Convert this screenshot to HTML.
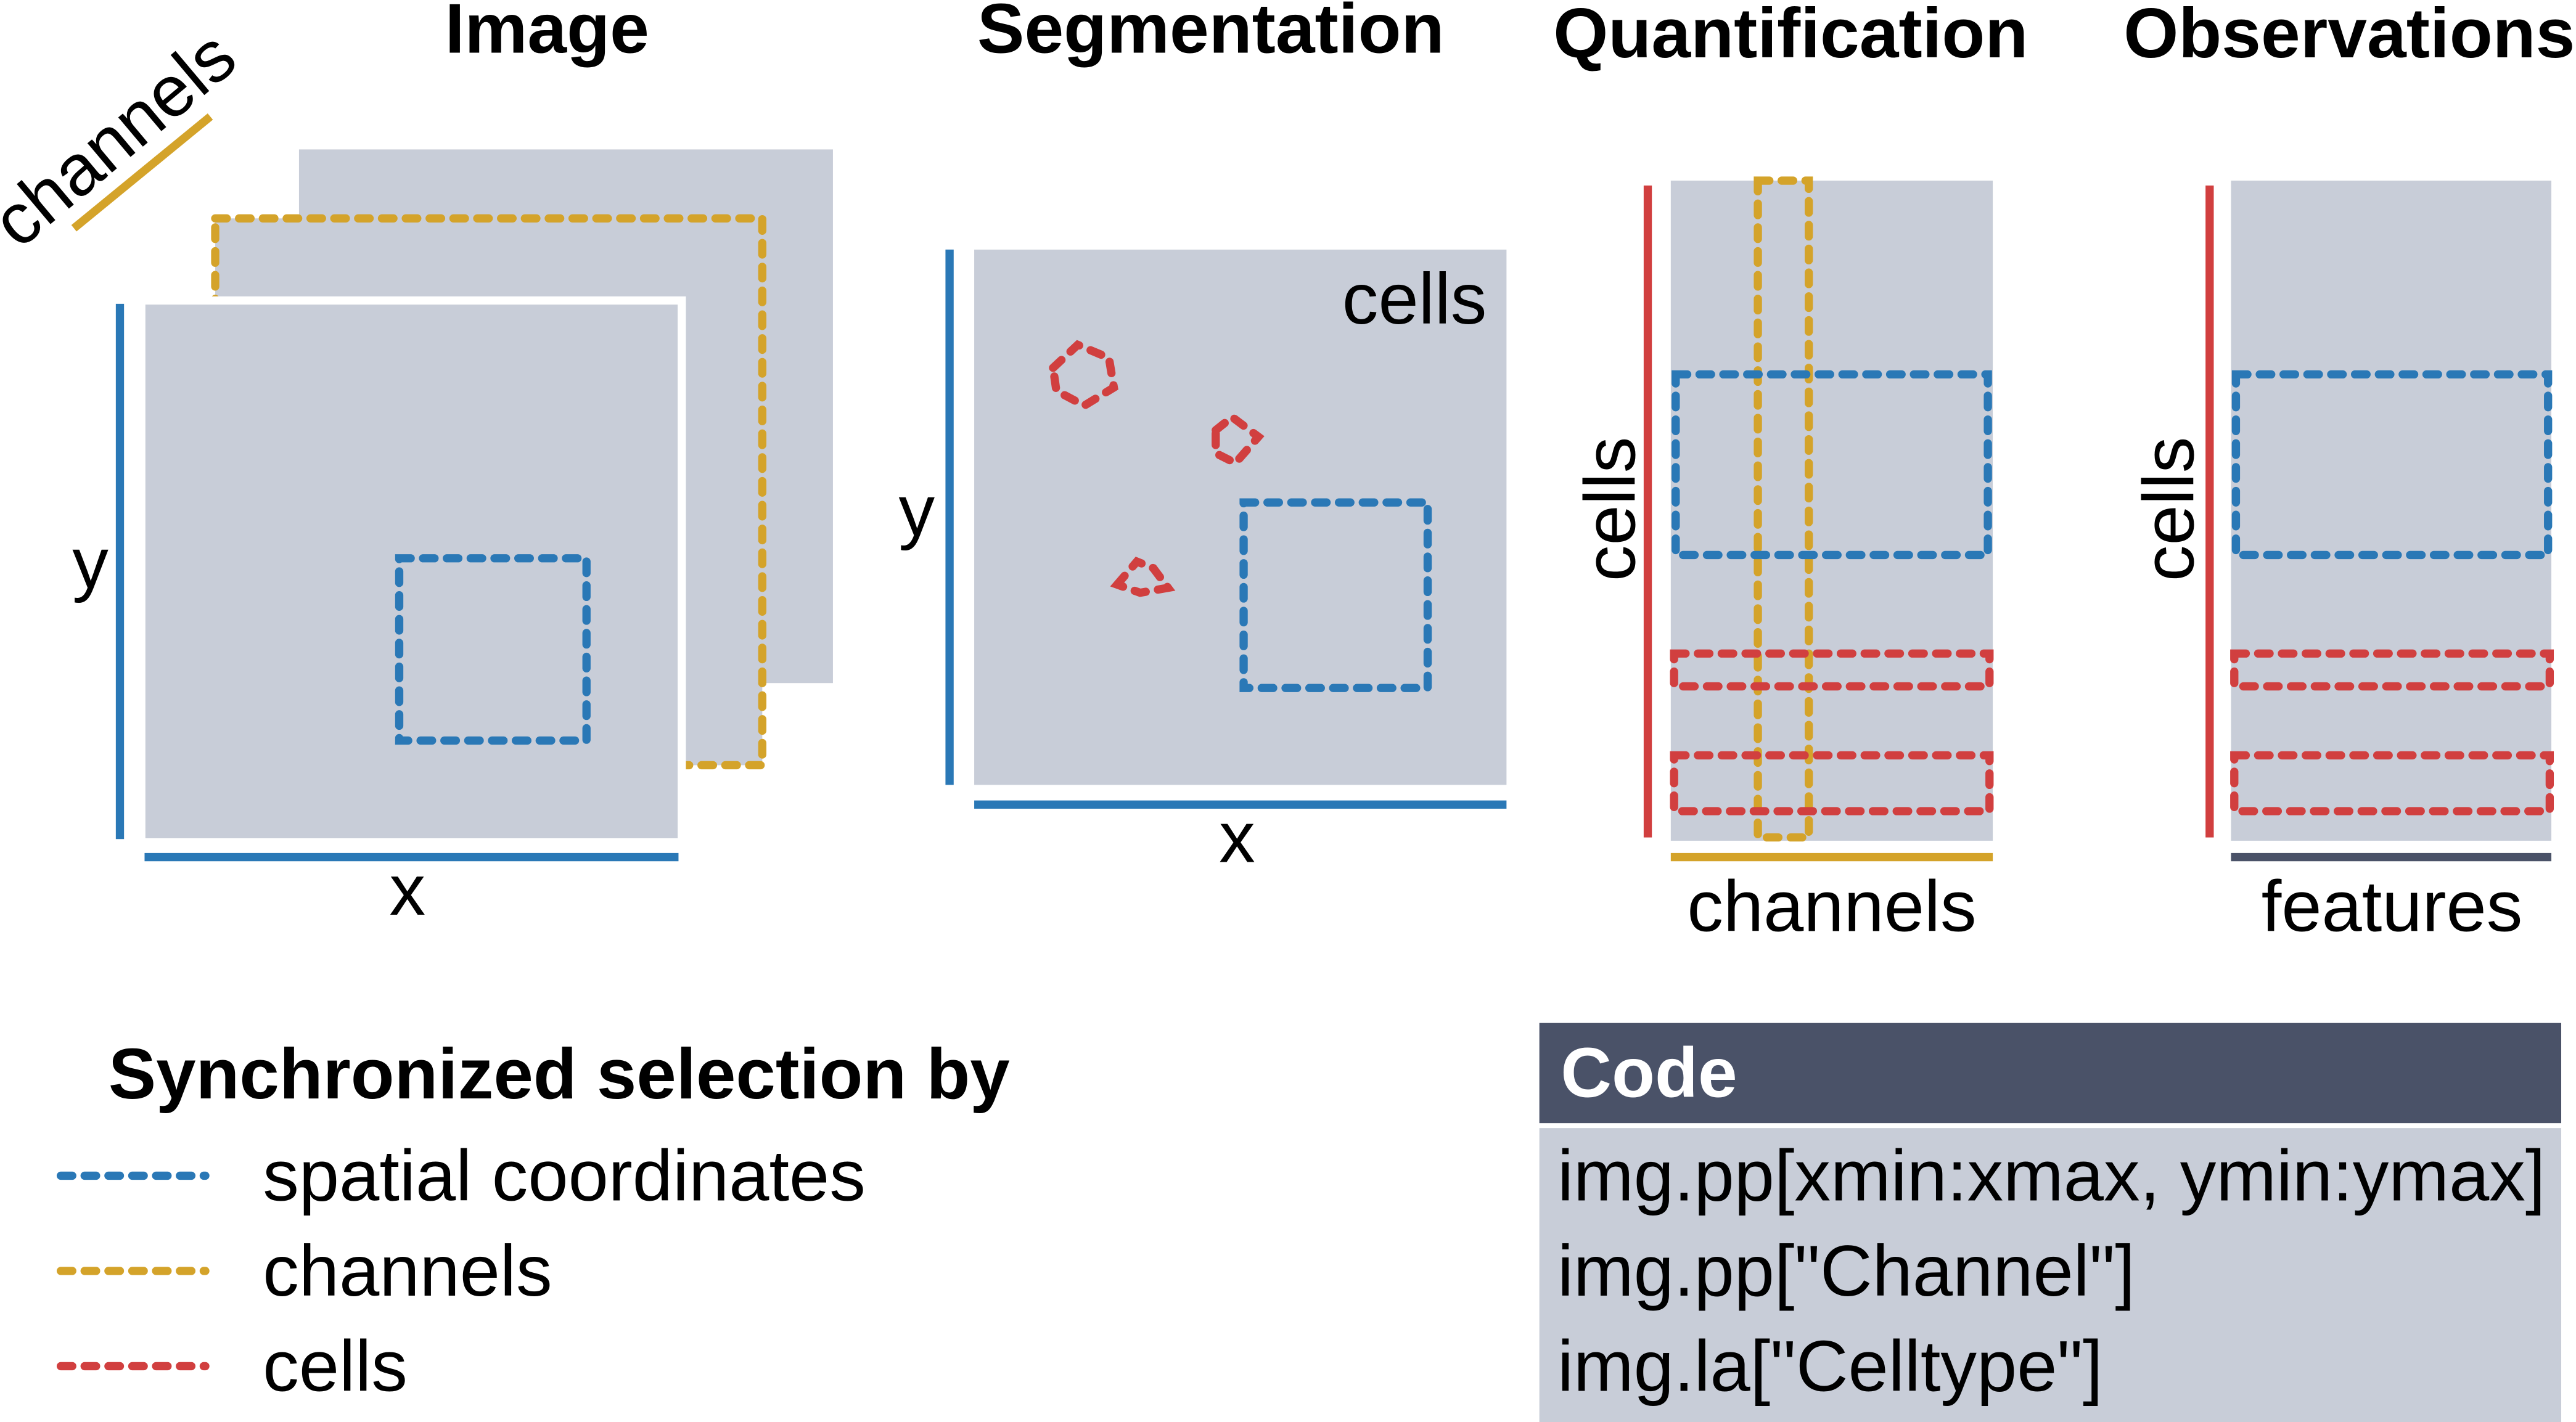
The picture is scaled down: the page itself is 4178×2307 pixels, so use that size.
<!DOCTYPE html>
<html><head><meta charset="utf-8"><style>
html,body{margin:0;padding:0;background:#fff;}
svg{display:block;}
text{font-family:"Liberation Sans",Arial,sans-serif;fill:#000;}
.t{font-weight:bold;font-size:43px;text-anchor:middle;}
.l{font-size:44px;}
.d{fill:none;stroke-width:5;stroke-dasharray:7 7.5;stroke-linecap:round;}
.b{stroke:#2a78b6;} .y{stroke:#d4a32a;} .r{stroke:#d13f3f;}
.g{fill:#c8cdd8;}
</style></head><body>
<svg width="4178" height="2307" viewBox="0 0 1568 866" preserveAspectRatio="none">
<g>
<text class="t" x="333" y="32">Image</text>
<rect class="g" x="182" y="91" width="325" height="325"/>
<rect class="g" x="131" y="133" width="333" height="333"/>
<rect class="d y" x="131" y="133" width="333" height="333"/>
<rect class="g" x="86" y="183" width="329" height="330" stroke="#fff" stroke-width="5"/>
<rect class="d b" x="243" y="340" width="114" height="111"/>
<line x1="73" y1="185" x2="73" y2="511" stroke="#2a78b6" stroke-width="5"/>
<line x1="88" y1="522" x2="413" y2="522" stroke="#2a78b6" stroke-width="5"/>
<text class="l" x="55" y="358" text-anchor="middle">y</text>
<text class="l" x="248" y="557" text-anchor="middle">x</text>
<line x1="45" y1="139" x2="128" y2="71" stroke="#d4a32a" stroke-width="5"/>
<text class="l" x="79" y="96" text-anchor="middle" transform="rotate(-40 79 96)">channels</text>
</g>
<g>
<text class="t" x="737" y="32">Segmentation</text>
<rect class="g" x="593" y="152" width="324" height="326"/>
<line x1="578" y1="152" x2="578" y2="478" stroke="#2a78b6" stroke-width="5"/>
<line x1="593" y1="490" x2="917" y2="490" stroke="#2a78b6" stroke-width="5"/>
<text class="l" x="558" y="326" text-anchor="middle">y</text>
<text class="l" x="753" y="525" text-anchor="middle">x</text>
<text class="l" x="905" y="197" text-anchor="end">cells</text>
<path class="d r" d="M641,224 L656,210 L675,218 L678,236 L660,247 L643,238 Z"/>
<path class="d r" d="M740,262 L750,254 L766,266 L752,282 L740,276 Z"/>
<path class="d r" d="M680,356 L692,342 L702,346 L711,358 L694,361 Z"/>
<rect class="d b" x="757" y="306" width="112" height="113"/>
</g>
<g>
<text class="t" x="1090" y="35">Quantification</text>
<rect class="g" x="1017" y="110" width="196" height="402"/>
<rect class="d y" x="1070" y="110" width="31" height="400"/>
<rect class="d b" x="1020" y="228" width="190" height="110"/>
<rect class="d r" x="1019" y="398" width="192" height="20"/>
<rect class="d r" x="1019" y="460" width="192" height="34"/>
<line x1="1003" y1="113" x2="1003" y2="510" stroke="#d13f3f" stroke-width="5"/>
<line x1="1017" y1="522" x2="1213" y2="522" stroke="#d4a32a" stroke-width="5"/>
<text class="l" x="980" y="310" text-anchor="middle" dominant-baseline="central" transform="rotate(-90 980 310)">cells</text>
<text class="l" x="1115" y="567" text-anchor="middle">channels</text>
</g>
<g>
<text class="t" x="1430" y="35">Observations</text>
<rect class="g" x="1358" y="110" width="195" height="402"/>
<rect class="d b" x="1361" y="228" width="190" height="110"/>
<rect class="d r" x="1360" y="398" width="192" height="20"/>
<rect class="d r" x="1360" y="460" width="192" height="34"/>
<line x1="1345" y1="113" x2="1345" y2="510" stroke="#d13f3f" stroke-width="5"/>
<line x1="1358" y1="522" x2="1553" y2="522" stroke="#4a5268" stroke-width="5"/>
<text class="l" x="1320" y="310" text-anchor="middle" dominant-baseline="central" transform="rotate(-90 1320 310)">cells</text>
<text class="l" x="1456" y="567" text-anchor="middle">features</text>
</g>
<g>
<text x="66" y="669" style="font-weight:bold;font-size:43.5px">Synchronized selection by</text>
<line class="d b" x1="37" y1="716" x2="125" y2="716"/>
<text class="l" x="160" y="731">spatial coordinates</text>
<line class="d y" x1="37" y1="774" x2="125" y2="774"/>
<text class="l" x="160" y="789">channels</text>
<line class="d r" x1="37" y1="832" x2="125" y2="832"/>
<text class="l" x="160" y="847">cells</text>
</g>
<g>
<rect x="937" y="623" width="622" height="61" fill="#4a5268"/>
<text x="950" y="668" style="font-weight:bold;font-size:43px;fill:#fff">Code</text>
<rect x="937" y="687" width="622" height="179" fill="#c8cdd8"/>
<text class="l" x="948" y="731">img.pp[xmin:xmax, ymin:ymax]</text>
<text class="l" x="948" y="789">img.pp["Channel"]</text>
<text class="l" x="948" y="847">img.la["Celltype"]</text>
</g>
</svg>
</body></html>
